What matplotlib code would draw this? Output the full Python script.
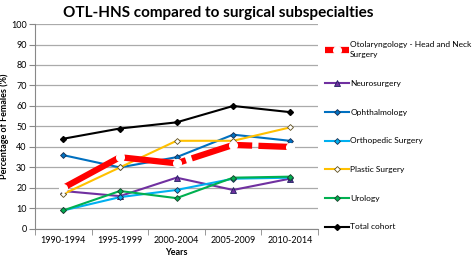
import matplotlib.pyplot as plt
from matplotlib.ticker import FixedLocator

periods = ["1990-1994", "1995-1999", "2000-2004", "2005-2009", "2010-2014"]

otl_hns = [20, 35, 32, 41, 40]
neurosurgery = [18.5, 16, 25, 19, 24.5]
ophthalmology = [36, 30, 35, 46, 43]
orthopedic = [9, 15.5, 19, 24.5, 25]
plastic = [17, 30, 43, 43, 49.5]
urology = [9, 18.5, 15, 25, 25.5]
total_cohort = [44, 49, 52, 60, 57]

plt.rcParams['font.family'] = ['Lato', 'DejaVu Sans']

fig = plt.figure(figsize=(4.72, 2.61), dpi=100)
ax = fig.add_axes([0.074, 0.123, 0.6, 0.785])

x = list(range(len(periods)))

ax.plot(x, otl_hns, color='#FF0000', lw=4.5, dashes=(10, 1), marker='o', ms=5.5,
        mfc='white', mec='white', label="Otolaryngology - Head and Neck\nSurgery", zorder=3)
ax.plot(x, neurosurgery, color='#7030A0', lw=1.5, marker='^', ms=5,
        mfc='#7030A0', mec='#1F1F5F', mew=0.6, label="Neurosurgery")
ax.plot(x, ophthalmology, color='#0070C0', lw=1.5, marker='D', ms=3,
        mfc='#0070C0', mec='#1F2F4F', mew=0.6, label="Ophthalmology")
ax.plot(x, orthopedic, color='#00B0F0', lw=1.5, marker='D', ms=3,
        mfc='#00B0F0', mec='#1F2F4F', mew=0.6, label="Orthopedic Surgery")
ax.plot(x, plastic, color='#FFC000', lw=1.5, marker='D', ms=3,
        mfc='white', mec='#5F4F1F', mew=0.6, label="Plastic Surgery")
ax.plot(x, urology, color='#00B050', lw=1.5, marker='D', ms=3,
        mfc='#00B050', mec='#1F3F2F', mew=0.6, label="Urology")
ax.plot(x, total_cohort, color='black', lw=1.5, marker='D', ms=3,
        mfc='black', mec='black', label="Total cohort")

ax.set_xlim(-0.5, len(periods) - 0.5)
ax.set_ylim(0, 100)
ax.set_yticks(range(0, 101, 10))
ax.set_xticks(x)
ax.set_xticklabels(periods)
ax.xaxis.set_minor_locator(FixedLocator([i - 0.5 for i in range(len(periods) + 1)]))
ax.tick_params(axis='x', which='major', length=0, labelsize=6.5, pad=5)
ax.tick_params(axis='x', which='minor', length=4, color='#888888')
ax.tick_params(axis='y', length=4, color='#888888', labelsize=6.5, pad=2)
ax.yaxis.grid(True, color='#AAAAAA', lw=0.9)
ax.set_axisbelow(True)
for s in ['top', 'right']:
    ax.spines[s].set_visible(False)
for s in ['left', 'bottom']:
    ax.spines[s].set_color('#888888')

fig.text(0.462, 0.95, "OTL-HNS compared to surgical subspecialties", fontsize=11,
         fontweight='bold', ha='center', va='center')
ax.set_xlabel("Years", fontsize=6.5, fontweight='bold', labelpad=2)
ax.set_ylabel("Percentage of Females (%)", fontsize=6.5, fontweight='bold', labelpad=1)

leg = ax.legend(loc='upper left', bbox_to_anchor=(1.025, 0.915), frameon=False, fontsize=6,
                labelspacing=2.6, handlelength=2.8, handletextpad=0.2, borderaxespad=0,
                borderpad=0)
for t in leg.get_texts():
    t.set_linespacing(1.5)

fig.savefig("out.png", dpi=100)
